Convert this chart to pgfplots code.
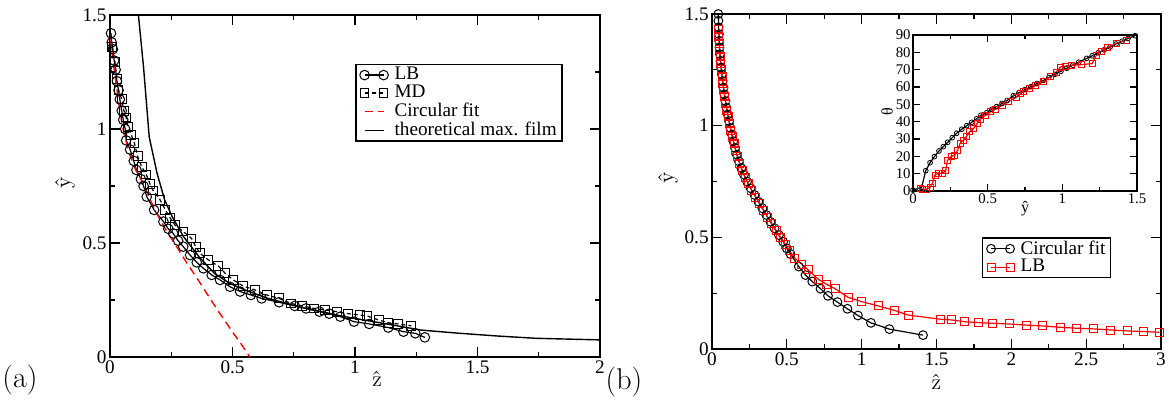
\documentclass[border=0pt]{standalone}
\usepackage{fontspec}
\setmainfont{Liberation Serif}
\usepackage{pgfplots}
\pgfplotsset{compat=1.18}
\newcommand{\lm}{\fontfamily{lmr}\selectfont}
\begin{document}
\begin{tikzpicture}
\useasboundingbox (0,0) rectangle (584.5pt,200pt);
\pgfplotsset{
  grstyle/.style={
    scale only axis, clip=false,
    axis line style={line width=0.9pt},
    tick style={line width=0.6pt, black},
    tick align=inside,
    major tick length=5pt, minor tick length=2.5pt,
    ticklabel style={font=\fontsize{9.6}{11}\selectfont, inner sep=1.5pt},
    /pgf/number format/assume math mode=true,
    legend cell align=left,
    legend image code/.code={\draw[##1] plot coordinates {(0pt,0pt) (9.5pt,0pt)};},
    legend style={draw=black, line width=0.8pt, fill=white,
      font=\fontsize{9.6}{10}\selectfont, inner xsep=2pt, inner ysep=0.7pt,
      column sep=2.5pt,
      nodes={inner sep=0.6pt, text depth=0.15em}, row sep=0pt},
  }
}
% ---------------- panel (a) ----------------
\begin{axis}[grstyle, at={(55pt,21.5pt)}, anchor=south west,
  width=245pt, height=171pt,
  xmin=0, xmax=2, ymin=0, ymax=1.5,
  xtick={0,0.5,1,1.5,2}, ytick={0,0.5,1,1.5},
  minor x tick num=1, minor y tick num=1,
  xlabel={\lm\^z}, ylabel={\lm\^y},
  xlabel style={at={(axis description cs:0.545,-0.064)}, anchor=center, font=\fontsize{11}{12}\selectfont},
  ylabel style={at={(axis description cs:-0.092,0.509)}, anchor=center, font=\fontsize{11}{12}\selectfont},
  legend style={at={(axis description cs:0.5,0.857)}, anchor=north west},
]
\addplot[black, line width=0.6pt, mark=o, mark size=2.4pt, mark options={solid, line width=0.5pt}] coordinates {
(0.004,1.42) (0.007,1.38) (0.012,1.35) (0.017,1.30) (0.023,1.26) (0.028,1.21)
(0.035,1.17) (0.040,1.13) (0.048,1.08) (0.054,1.04) (0.062,1.00) (0.066,0.95)
(0.082,0.91) (0.097,0.86) (0.108,0.82) (0.126,0.78) (0.137,0.75) (0.150,0.703)
(0.180,0.645) (0.218,0.594) (0.238,0.562) (0.258,0.542) (0.278,0.510) (0.299,0.484)
(0.327,0.447) (0.354,0.415) (0.381,0.389) (0.415,0.360) (0.449,0.338) (0.490,0.308)
(0.531,0.287) (0.575,0.272) (0.619,0.257) (0.690,0.240) (0.754,0.224) (0.800,0.213)
(0.855,0.199) (0.895,0.190) (0.940,0.177) (0.996,0.155) (1.058,0.145) (1.136,0.129)
(1.198,0.111) (1.246,0.104) (1.285,0.086)
};
\addlegendentry{LB}
\addplot[black, line width=0.6pt, dash pattern=on 2pt off 1.5pt, mark=square, mark size=2.2pt, mark options={solid, line width=0.5pt}] coordinates {
(0.007,1.36) (0.020,1.295) (0.028,1.22) (0.035,1.17) (0.048,1.13) (0.057,1.08)
(0.066,1.05) (0.074,1.01) (0.087,0.974) (0.100,0.937) (0.113,0.88) (0.129,0.835)
(0.148,0.80) (0.163,0.76) (0.176,0.73) (0.204,0.69) (0.226,0.645) (0.245,0.61)
(0.265,0.579) (0.299,0.55) (0.333,0.52) (0.350,0.484) (0.367,0.455) (0.401,0.426)
(0.442,0.399) (0.470,0.367) (0.503,0.338) (0.544,0.311) (0.592,0.294) (0.640,0.272)
(0.690,0.257) (0.738,0.235) (0.785,0.224) (0.832,0.213) (0.879,0.206) (0.926,0.199)
(0.972,0.190) (1.020,0.184) (1.050,0.180) (1.097,0.162) (1.136,0.150) (1.175,0.145)
(1.230,0.137)
};
\addlegendentry{MD}
\addplot[red, line width=0.7pt, dash pattern=on 4pt off 2.5pt] coordinates {
(0.000,1.40) (0.006,1.36) (0.012,1.30) (0.025,1.20) (0.040,1.08) (0.057,0.98)
(0.080,0.89) (0.105,0.82) (0.129,0.776) (0.160,0.70) (0.190,0.63) (0.230,0.555)
(0.272,0.484) (0.315,0.41) (0.360,0.338) (0.405,0.262) (0.449,0.19) (0.500,0.11)
(0.540,0.05) (0.571,0.00)
};
\addlegendentry{Circular fit}
\addplot[black, line width=0.7pt] coordinates {
(0.116,1.50) (0.137,1.27) (0.160,0.966) (0.192,0.806) (0.223,0.689) (0.254,0.615)
(0.300,0.528) (0.363,0.440) (0.426,0.367) (0.488,0.323) (0.567,0.287) (0.645,0.257)
(0.800,0.213) (0.957,0.177) (1.113,0.148) (1.270,0.118) (1.426,0.104) (1.582,0.092)
(1.738,0.082) (2.000,0.075)
};
\addlegendentry{theoretical max. film}
\end{axis}
% ---------------- panel (b) ----------------
\begin{axis}[grstyle, at={(356pt,25.5pt)}, anchor=south west,
  width=224.5pt, height=167.5pt,
  xmin=0, xmax=3, ymin=0, ymax=1.5,
  xtick={0,0.5,1,1.5,2,2.5,3}, ytick={0,0.5,1,1.5},
  minor x tick num=1, minor y tick num=1,
  xlabel={\lm\^z}, ylabel={\lm\^y},
  xlabel style={at={(axis description cs:0.5,-0.0985)}, anchor=center, font=\fontsize{11}{12}\selectfont},
  ylabel style={at={(axis description cs:-0.098,0.51)}, anchor=center, font=\fontsize{11}{12}\selectfont},
  legend style={at={(axis description cs:0.601,0.334)}, anchor=north west},
]
\addplot[black, line width=0.6pt, mark=o, mark size=2.2pt, mark options={solid, line width=0.5pt}] coordinates {
(0.042,1.50) (0.043,1.47) (0.044,1.44) (0.046,1.41) (0.048,1.38) (0.050,1.35)
(0.053,1.32) (0.057,1.29) (0.061,1.26) (0.066,1.23) (0.071,1.20) (0.077,1.17)
(0.083,1.14) (0.090,1.11) (0.097,1.08) (0.105,1.05) (0.114,1.02) (0.123,0.99)
(0.133,0.96) (0.143,0.93) (0.154,0.90) (0.166,0.87) (0.180,0.84) (0.196,0.81)
(0.214,0.78) (0.234,0.75) (0.258,0.72) (0.284,0.69) (0.310,0.66) (0.337,0.63)
(0.363,0.60) (0.390,0.57) (0.418,0.54) (0.447,0.51) (0.476,0.48) (0.500,0.45)
(0.525,0.425) (0.580,0.369) (0.625,0.331) (0.670,0.302) (0.725,0.270) (0.775,0.238)
(0.838,0.210) (0.905,0.180) (0.975,0.150) (1.062,0.117) (1.185,0.089) (1.410,0.062)
};
\addlegendentry{Circular fit}
\addplot[red, line width=0.6pt, mark=square, mark size=2pt, mark options={solid, line width=0.5pt}] coordinates {
(0.045,1.43) (0.046,1.40) (0.048,1.37) (0.051,1.34) (0.054,1.31) (0.058,1.28)
(0.063,1.25) (0.067,1.22) (0.073,1.19) (0.079,1.16) (0.085,1.13) (0.092,1.10)
(0.100,1.07) (0.108,1.04) (0.117,1.01) (0.126,0.98) (0.136,0.95) (0.147,0.92)
(0.158,0.89) (0.171,0.86) (0.185,0.83) (0.202,0.80) (0.221,0.77) (0.242,0.74)
(0.266,0.71) (0.292,0.68) (0.318,0.65) (0.345,0.62) (0.372,0.59) (0.400,0.56)
(0.428,0.53) (0.457,0.50) (0.488,0.47) (0.520,0.44) (0.554,0.406) (0.600,0.380)
(0.643,0.354) (0.710,0.312) (0.765,0.290) (0.822,0.270) (0.910,0.231) (1.000,0.212)
(1.111,0.193) (1.222,0.172) (1.311,0.152) (1.530,0.133) (1.600,0.130) (1.690,0.122)
(1.780,0.118) (1.875,0.115) (1.985,0.112) (2.100,0.107) (2.210,0.103) (2.330,0.097)
(2.435,0.093) (2.550,0.090) (2.665,0.085) (2.775,0.081) (2.885,0.078) (2.990,0.075)
};
\addlegendentry{LB}
\end{axis}
% ---------------- inset ----------------
\begin{axis}[grstyle, at={(456.5pt,104.5pt)}, anchor=south west,
  width=112pt, height=78pt,
  axis background/.style={fill=white},
  xmin=0, xmax=1.5, ymin=0, ymax=90,
  xtick={0,0.5,1,1.5}, ytick={0,10,...,90},
  minor x tick num=1, minor y tick num=0,
  major tick length=3.3pt, minor tick length=1.8pt,
  axis line style={line width=0.8pt},
  ticklabel style={font=\fontsize{7.4}{8}\selectfont, inner sep=1pt},
  xlabel={\^y}, ylabel={θ},
  xlabel style={at={(axis description cs:0.5,-0.115)}, anchor=center, font=\fontsize{8}{9}\selectfont},
  ylabel style={at={(axis description cs:-0.116,0.51)}, anchor=center, font=\fontsize{8}{9}\selectfont},
]
\addplot[black, line width=0.6pt, mark=o, mark size=1.2pt, mark options={solid, line width=0.4pt}] coordinates {
(0,0.5) (0.058,2.1) (0.085,11.7) (0.114,16.3) (0.143,19.8) (0.174,23.1)
(0.203,25.6) (0.232,28.1) (0.263,30.8) (0.292,33.3) (0.326,35.6) (0.360,37.7)
(0.393,39.6) (0.427,41.7) (0.455,43.7) (0.494,45.2) (0.527,47.1) (0.560,48.7)
(0.595,50.5) (0.630,52.2) (0.672,55.0) (0.710,56.8) (0.750,58.5) (0.790,60.2)
(0.830,62.0) (0.873,63.8) (0.910,65.5) (0.950,67.3) (0.990,69.0) (1.030,70.8)
(1.070,72.6) (1.110,74.3) (1.163,76.5) (1.200,78.0) (1.240,79.7) (1.280,81.4)
(1.320,83.1) (1.360,84.8) (1.400,86.4) (1.440,88.0) (1.487,89.6)
};
\addplot[red, line width=0.6pt, mark=square, mark size=1.5pt, mark options={solid, line width=0.4pt}] coordinates {
(0.050,1.5) (0.066,1.0) (0.089,1.0) (0.114,2.1) (0.130,4.4) (0.147,9.2)
(0.170,10.2) (0.200,10.2) (0.220,12.1) (0.230,17.5) (0.254,19.8) (0.280,20.8)
(0.300,23.7) (0.315,27.5) (0.340,29.4) (0.360,31.7) (0.380,34.2) (0.405,36.0)
(0.430,39.0) (0.450,41.3) (0.485,43.8) (0.520,45.8) (0.550,47.1) (0.600,49.6)
(0.640,51.5) (0.690,54.0) (0.720,56.3) (0.740,57.3) (0.780,59.0) (0.820,60.8)
(0.873,63.0) (0.920,66.0) (0.960,68.6) (0.985,71.5) (1.020,72.0) (1.060,72.5)
(1.130,72.9) (1.200,73.5) (1.228,78.4) (1.260,80.5) (1.300,82.6) (1.360,85.1)
(1.430,87.0)
};
\end{axis}
\node[font=\lm\fontsize{15}{16}\selectfont] at (10pt,10pt) {(a)};
\node[font=\lm\fontsize{15}{16}\selectfont] at (312pt,9pt) {(b)};
\end{tikzpicture}
\end{document}
